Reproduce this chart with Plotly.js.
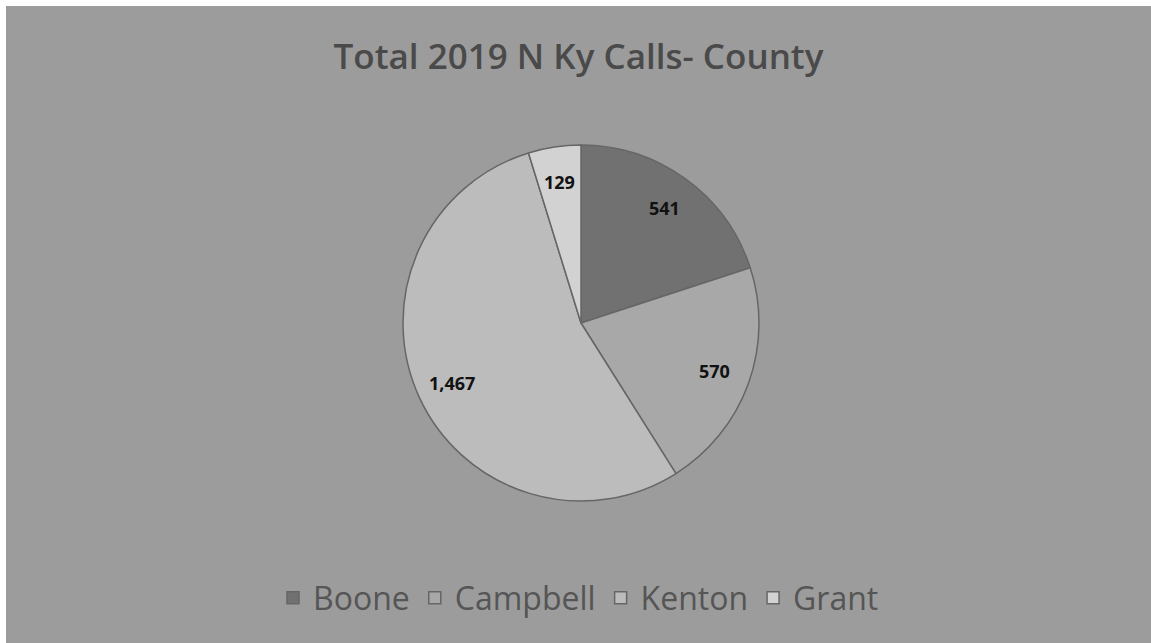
<!DOCTYPE html>
<html>
<head>
<meta charset="utf-8">
<script src="https://cdn.plot.ly/plotly-3.0.1.min.js"></script>
<style>
html, body { margin: 0; padding: 0; background: #ffffff; overflow: hidden; }
#chart { position: absolute; left: 6px; top: 6px; width: 1145px; height: 637px; }
</style>
</head>
<body>
<div id="chart"></div>
<script>
const counties = ["Boone", "Campbell", "Kenton", "Grant"];
const calls = [541, 570, 1467, 129];
const labelsText = ["541", "570", "1,467", "129"];
const sliceColors = ["#717171", "#a8a8a8", "#bcbcbc", "#d2d2d2"];

const W = 1145, H = 637;
const cx = 581 - 6, cy = 323 - 6, r = 178;
const FONT = "'Open Sans', Lato, sans-serif";

const trace = {
  type: "pie",
  labels: counties,
  values: calls,
  textinfo: "none",
  sort: false,
  direction: "clockwise",
  rotation: 0,
  marker: { colors: sliceColors, line: { color: "#666666", width: 1.5 } },
  domain: { x: [(cx - r) / W, (cx + r) / W], y: [1 - (cy + r) / H, 1 - (cy - r) / H] },
  hoverinfo: "label+value"
};

// data labels placed along each slice's middle angle (computed from the values)
const total = calls.reduce((a, b) => a + b, 0);
let cum = 0;
const annotations = calls.map((v, i) => {
  const mid = (cum + v / 2) / total * 2 * Math.PI;
  cum += v;
  const rr = 0.8 * r;
  return {
    xref: "paper", yref: "paper",
    x: (cx + rr * Math.sin(mid)) / W,
    y: 1 - (cy - rr * Math.cos(mid)) / H,
    xanchor: "center", yanchor: "middle",
    text: "<b>" + labelsText[i] + "</b>",
    showarrow: false,
    font: { family: FONT, size: 18, color: "#111111" }
  };
});

const layout = {
  width: W, height: H,
  paper_bgcolor: "#9c9c9c",
  plot_bgcolor: "#9c9c9c",
  margin: { l: 0, r: 0, t: 0, b: 0 },
  title: {
    text: "Total 2019 N Ky Calls- County",
    x: 0.5, xanchor: "center",
    y: 1 - (57 - 6) / H, yanchor: "middle",
    font: { family: FONT, size: 35, color: "#4a4a4a", weight: 600 }
  },
  annotations: annotations,
  showlegend: true,
  legend: {
    orientation: "h",
    x: 0.5, xanchor: "center",
    y: 1 - (598 - 6) / H, yanchor: "middle",
    font: { family: FONT, size: 32, color: "#555555" },
    bgcolor: "rgba(0,0,0,0)",
    itemwidth: 30
  }
};

Plotly.newPlot("chart", [trace], layout, { displayModeBar: false, staticPlot: true });
</script>
</body>
</html>
